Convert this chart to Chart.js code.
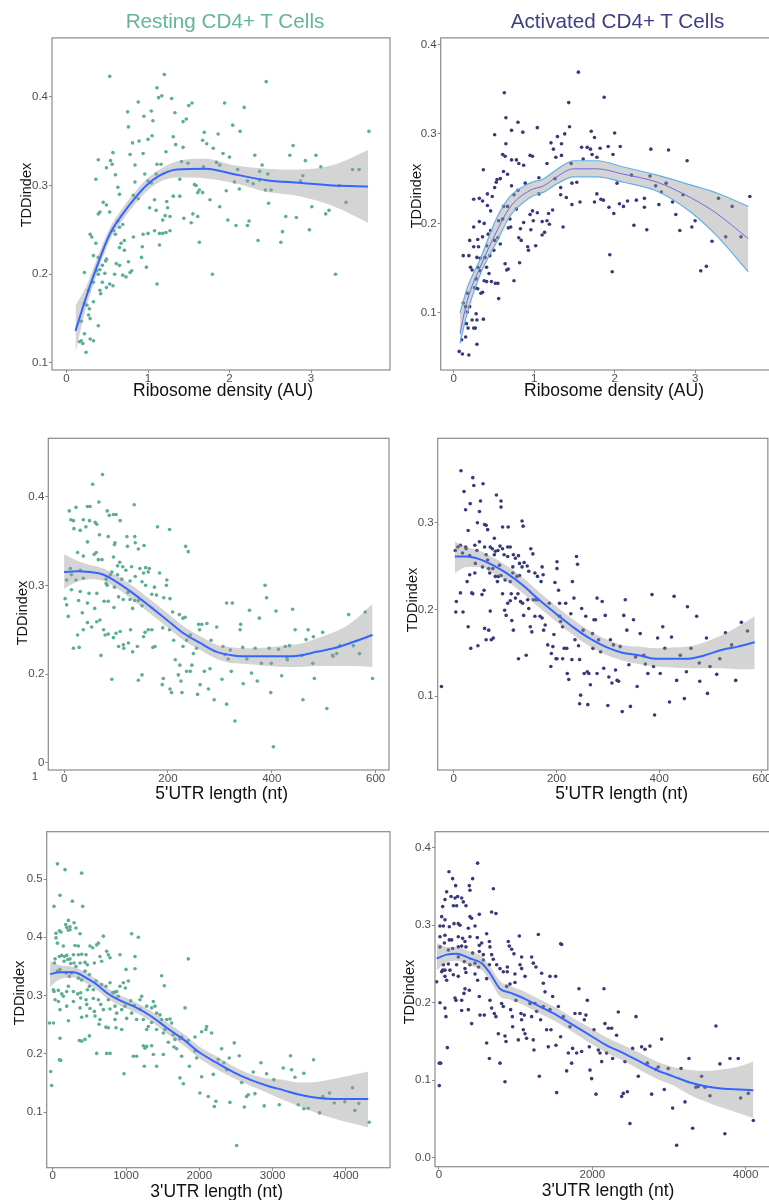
<!DOCTYPE html>
<html><head><meta charset="utf-8">
<script src="https://cdn.jsdelivr.net/npm/chart.js@4.4.1/dist/chart.umd.min.js"></script>
<style>
html,body{margin:0;padding:0;background:#fff;overflow:hidden;width:769px;height:1200px;}
#wrap{position:relative;width:769px;height:1200px;overflow:hidden;}
canvas{position:absolute;}
.t{position:absolute;font-family:'Liberation Sans',Arial,sans-serif;white-space:nowrap;line-height:1;transform:translate(-50%,-50%);color:#111;z-index:5;}
.yt{transform:translate(-50%,-50%) rotate(-90deg);}
</style></head>
<body><div id="wrap"></div>
<script>
// ---------- DATA ----------
const restRibo=[[0.53,.423],[1.20,.425],[1.11,.41],[1.17,.401],[1.13,.399],[1.29,.398],[0.88,.394],[1.54,.393],[1.50,.39],[1.94,.393],[2.18,.388],[2.45,.417],[1.04,.384],[0.75,.383],[0.95,.378],[1.33,.382],[1.06,.373],[1.47,.375],[1.43,.372],[0.76,.366],[2.04,.368],[3.71,.361],[2.13,.361],[1.69,.36],[1.86,.358],[1.05,.356],[1.31,.355],[1.67,.351],[0.81,.348],[0.89,.35],[1.0,.352],[1.72,.347],[2.78,.345],[1.34,.346],[1.43,.343],[1.80,.342],[1.22,.338],[0.94,.336],[0.78,.335],[0.57,.337],[1.92,.336],[2.31,.334],[2.74,.334],[3.06,.334],[2.0,.332],[0.39,.329],[0.54,.328],[0.56,.324],[1.41,.327],[1.49,.325],[1.84,.326],[1.88,.323],[2.93,.328],[2.40,.323],[1.11,.324],[1.16,.324],[0.84,.323],[0.49,.320],[3.12,.321],[3.51,.318],[3.59,.318],[1.68,.321],[2.10,.318],[2.37,.316],[2.47,.313],[0.96,.313],[1.10,.313],[0.60,.312],[0.36,.307],[1.39,.307],[2.90,.311],[2.87,.305],[1.0,.305],[1.04,.303],[0.84,.304],[2.06,.304],[2.22,.305],[2.29,.302],[2.37,.306],[1.57,.301],[1.59,.300],[1.63,.295],[1.67,.292],[1.61,.292],[2.12,.296],[1.96,.294],[2.44,.295],[2.51,.295],[3.35,.300],[0.63,.298],[0.65,.290],[0.82,.289],[0.88,.285],[1.31,.288],[1.39,.288],[1.76,.284],[1.08,.284],[1.23,.282],[3.43,.281],[0.45,.281],[0.49,.278],[3.01,.276],[2.48,.280],[3.18,.268],[3.22,.272],[1.88,.276],[1.02,.275],[1.24,.275],[1.10,.272],[0.41,.270],[0.39,.268],[0.53,.270],[1.21,.266],[1.27,.265],[1.18,.261],[2.69,.265],[2.82,.264],[1.44,.263],[1.55,.268],[1.61,.265],[1.98,.261],[2.24,.260],[2.22,.255],[2.08,.255],[1.53,.258],[0.63,.260],[0.65,.253],[0.58,.249],[0.69,.256],[2.98,.250],[2.65,.248],[1.08,.249],[1.14,.246],[1.18,.246],[1.22,.247],[1.27,.249],[0.94,.245],[1.0,.246],[0.82,.242],[0.71,.238],[0.67,.235],[0.60,.245],[0.29,.245],[0.31,.242],[0.36,.235],[1.63,.236],[2.35,.238],[2.63,.236],[1.14,.233],[0.93,.231],[0.65,.230],[0.71,.227],[0.33,.221],[0.39,.219],[0.92,.219],[0.49,.217],[0.48,.215],[0.44,.210],[0.76,.214],[0.61,.212],[0.65,.210],[0.98,.208],[0.37,.204],[0.41,.205],[0.22,.202],[0.47,.201],[0.39,.200],[0.59,.200],[0.69,.199],[0.73,.197],[0.78,.202],[0.80,.204],[1.79,.2],[3.30,.2],[0.44,.191],[0.53,.189],[0.57,.187],[0.49,.185],[1.11,.189],[0.33,.191],[0.27,.182],[0.42,.178],[0.41,.182],[0.33,.169],[0.22,.167],[0.25,.165],[0.28,.161],[0.39,.142],[0.27,.154],[0.29,.150],[0.18,.147],[0.16,.124],[0.18,.125],[0.20,.122],[0.24,.112],[0.29,.127],[0.33,.125],[0.22,.133]];
const fit1X=[0.11,0.24,0.37,0.53,0.69,0.86,0.98,1.14,1.35,1.71,2.04,2.45,2.86,3.27,3.70];
const fit1Y=[.136,.174,.208,.245,.268,.288,.300,.311,.318,.319,.313,.306,.303,.300,.299];
const fit1Hi=[.165,.186,.217,.252,.275,.295,.307,.318,.327,.330,.323,.319,.318,.323,.340];
const fit1Lo=[.112,.162,.199,.238,.261,.281,.293,.304,.309,.308,.303,.293,.288,.277,.258];

const actRibo=[[1.55,.369],[0.63,.346],[1.43,.335],[1.87,.341],[0.65,.318],[0.80,.313],[0.51,.299],[1.44,.308],[1.04,.307],[0.72,.304],[0.86,.302],[1.38,.300],[1.71,.303],[2.0,.301],[1.75,.296],[1.29,.297],[1.21,.290],[0.65,.289],[1.24,.283],[1.59,.285],[1.66,.285],[1.70,.283],[1.82,.284],[1.92,.286],[2.07,.286],[2.45,.283],[2.67,.282],[1.34,.289],[0.61,.277],[0.64,.275],[0.95,.276],[0.98,.275],[1.27,.274],[1.34,.276],[0.72,.271],[0.78,.271],[0.81,.267],[0.87,.265],[1.16,.267],[1.46,.267],[1.72,.277],[1.78,.274],[1.61,.272],[1.98,.277],[2.90,.270],[0.37,.260],[0.62,.258],[0.67,.255],[0.54,.249],[0.58,.250],[0.53,.246],[0.89,.245],[1.06,.251],[1.53,.246],[1.47,.245],[1.26,.250],[2.03,.245],[2.21,.254],[2.44,.253],[2.51,.242],[2.64,.245],[0.51,.240],[0.72,.242],[0.80,.237],[0.42,.233],[0.48,.230],[0.25,.227],[0.32,.228],[0.36,.225],[0.75,.232],[1.06,.233],[1.33,.232],[1.40,.229],[1.78,.233],[1.83,.227],[1.33,.240],[2.16,.225],[2.27,.226],[2.37,.228],[2.58,.235],[2.72,.224],[2.85,.232],[3.29,.228],[3.46,.219],[3.68,.230],[0.46,.214],[0.42,.220],[0.62,.219],[0.67,.219],[0.78,.216],[0.98,.214],[1.04,.212],[1.23,.215],[1.47,.221],[1.57,.224],[1.75,.224],[1.93,.218],[2.06,.222],[2.11,.219],[2.37,.218],[2.55,.221],[1.86,.226],[0.32,.202],[0.38,.200],[0.56,.203],[0.61,.205],[0.70,.205],[0.95,.210],[0.99,.203],[1.10,.202],[1.16,.203],[1.18,.211],[1.99,.211],[2.76,.210],[0.25,.196],[0.46,.192],[0.43,.188],[0.68,.195],[0.71,.196],[0.83,.194],[0.87,.201],[0.96,.193],[1.10,.187],[1.13,.190],[1.19,.199],[1.36,.196],[2.24,.198],[2.40,.193],[2.81,.192],[2.96,.196],[3.0,.203],[3.38,.185],[3.57,.185],[3.21,.180],[0.20,.181],[0.30,.182],[0.36,.185],[0.51,.181],[0.55,.184],[0.58,.177],[0.81,.184],[0.84,.181],[0.92,.174],[1.02,.175],[0.93,.170],[0.25,.174],[0.31,.174],[0.41,.175],[0.50,.170],[0.12,.164],[0.19,.164],[0.29,.162],[0.33,.161],[0.39,.162],[0.45,.164],[0.82,.156],[0.21,.151],[0.23,.148],[0.30,.151],[0.33,.147],[0.41,.151],[0.44,.144],[0.64,.155],[0.66,.148],[0.68,.149],[0.75,.136],[1.94,.165],[1.97,.146],[3.07,.147],[3.14,.152],[0.38,.136],[0.41,.135],[0.47,.135],[0.52,.133],[0.55,.133],[0.28,.138],[0.34,.122],[0.36,.123],[0.26,.128],[0.27,.128],[0.30,.127],[0.56,.116],[0.17,.122],[0.12,.111],[0.15,.107],[0.20,.107],[0.17,.101],[0.28,.099],[0.29,.092],[0.37,.093],[0.23,.092],[0.16,.088],[0.25,.083],[0.27,.083],[0.18,.083],[0.15,.073],[0.10,.070],[0.29,.065],[0.07,.057],[0.11,.054],[0.19,.053]];
const fit2X=[0.08,0.17,0.33,0.54,0.70,0.95,1.12,1.28,1.49,1.78,2.11,2.53,2.94,3.27,3.66];
const fit2Y=[.077,.114,.151,.192,.218,.237,.242,.252,.261,.261,.255,.246,.229,.211,.183];
const fit2Hi=[.100,.128,.160,.207,.230,.245,.250,.260,.270,.270,.263,.254,.243,.234,.219];
const fit2Lo=[.066,.100,.143,.180,.208,.229,.235,.244,.252,.252,.246,.236,.213,.186,.146];

const rest5utr=[[74,.425],[55,.414],[67,.394],[10,.384],[23,.388],[45,.389],[50,.389],[135,.391],[13,.374],[18,.373],[37,.374],[49,.373],[60,.371],[63,.369],[83,.384],[87,.379],[95,.380],[100,.380],[108,.373],[19,.364],[42,.366],[31,.362],[180,.366],[203,.363],[68,.357],[85,.355],[121,.355],[136,.355],[45,.349],[98,.348],[97,.346],[137,.348],[154,.345],[122,.344],[143,.341],[234,.344],[239,.338],[26,.337],[58,.335],[62,.337],[37,.333],[66,.329],[73,.329],[95,.332],[107,.326],[103,.322],[113,.321],[119,.317],[130,.321],[12,.319],[31,.317],[92,.315],[146,.319],[157,.320],[162,.315],[164,.319],[153,.314],[184,.314],[14,.312],[5,.306],[37,.308],[23,.306],[81,.307],[89,.312],[103,.312],[111,.307],[137,.310],[127,.305],[81,.302],[83,.300],[97,.298],[150,.304],[157,.300],[174,.298],[198,.306],[197,.300],[2,.285],[14,.295],[31,.293],[48,.291],[63,.291],[77,.282],[85,.282],[105,.287],[114,.284],[127,.284],[123,.292],[136,.283],[143,.283],[150,.277],[169,.290],[178,.289],[192,.286],[204,.285],[5,.278],[28,.283],[45,.280],[59,.274],[96,.275],[132,.274],[209,.270],[222,.267],[229,.263],[233,.264],[313,.280],[324,.280],[357,.272],[408,.271],[440,.273],[548,.267],[580,.270],[8,.265],[35,.269],[26,.244],[29,.230],[18,.229],[37,.250],[45,.258],[53,.253],[63,.259],[69,.261],[71,.221],[76,.250],[79,.244],[85,.245],[95,.241],[100,.246],[108,.248],[105,.231],[114,.233],[115,.229],[124,.235],[128,.250],[132,.225],[141,.231],[153,.242],[156,.247],[162,.250],[169,.250],[171,.230],[175,.231],[190,.252],[203,.250],[211,.238],[229,.231],[236,.238],[243,.244],[249,.223],[255,.229],[259,.256],[265,.256],[275,.257],[283,.238],[294,.253],[261,.250],[306,.231],[310,.222],[316,.217],[320,.227],[339,.250],[340,.256],[344,.230],[352,.217],[368,.229],[376,.263],[380,.212],[387,.300],[390,.286],[395,.229],[399,.212],[413,.228],[426,.231],[434,.232],[429,.218],[445,.250],[458,.221],[470,.250],[466,.239],[479,.212],[498,.247],[480,.242],[517,.221],[525,.223],[531,.232],[557,.232],[569,.223],[594,.195],[92,.194],[143,.193],[150,.199],[191,.195],[189,.188],[204,.183],[207,.179],[214,.216],[223,.210],[220,.199],[225,.192],[227,.179],[236,.203],[243,.203],[246,.210],[257,.177],[262,.188],[270,.203],[278,.183],[281,.206],[289,.171],[304,.194],[313,.166],[322,.203],[329,.147],[345,.189],[361,.201],[372,.192],[398,.179],[403,.118],[419,.198],[430,.216],[460,.171],[482,.195],[506,.161],[518,.220]];
const fit3X=[0,24,50,76,101,133,166,198,230,262,294,326,358,390,422,454,486,519,551,594];
const fit3Y=[.315,.316,.315,.312,.304,.291,.276,.261,.246,.235,.225,.221,.220,.220,.220,.221,.225,.229,.235,.244];
const fit3Hi=[.335,.328,.323,.319,.311,.299,.284,.269,.254,.243,.233,.230,.229,.230,.232,.234,.240,.247,.257,.279];
const fit3Lo=[.296,.304,.307,.305,.297,.283,.268,.253,.238,.227,.217,.212,.211,.209,.208,.208,.209,.209,.209,.208];

const act5utr=[[-24,.111],[14,.360],[37,.352],[39,.343],[57,.345],[20,.336],[32,.322],[23,.315],[52,.325],[50,.313],[83,.332],[92,.325],[92,.318],[95,.295],[106,.295],[46,.300],[60,.298],[63,.297],[66,.292],[28,.291],[133,.302],[135,.296],[3,.268],[8,.272],[13,.274],[17,.265],[23,.272],[24,.270],[31,.262],[41,.274],[45,.268],[50,.278],[60,.272],[63,.263],[71,.272],[75,.270],[79,.282],[79,.263],[81,.267],[86,.268],[90,.273],[95,.270],[98,.263],[105,.272],[105,.261],[110,.272],[116,.263],[120,.259],[126,.262],[128,.253],[133,.249],[137,.254],[143,.250],[150,.270],[154,.264],[146,.244],[158,.242],[163,.238],[170,.232],[174,.240],[172,.249],[31,.240],[41,.242],[42,.253],[56,.249],[66,.257],[68,.247],[70,.242],[76,.247],[81,.238],[85,.232],[87,.238],[89,.251],[92,.239],[100,.234],[110,.232],[115,.249],[115,.242],[123,.238],[128,.239],[26,.232],[35,.219],[37,.218],[55,.217],[59,.222],[13,.219],[5,.209],[4,.197],[18,.197],[28,.180],[33,.155],[47,.158],[60,.178],[63,.165],[68,.176],[71,.198],[73,.165],[77,.167],[95,.218],[99,.199],[102,.193],[105,.207],[110,.210],[112,.218],[113,.187],[116,.176],[120,.213],[125,.218],[126,.143],[130,.209],[134,.207],[136,.193],[141,.147],[144,.211],[146,.201],[149,.180],[152,.174],[155,.211],[158,.192],[160,.211],[164,.211],[168,.192],[172,.190],[175,.176],[178,.182],[183,.159],[186,.207],[190,.149],[193,.157],[195,.171],[197,.231],[201,.255],[201,.247],[204,.222],[206,.207],[206,.192],[208,.186],[212,.180],[212,.143],[215,.155],[189,.134],[199,.143],[201,.143],[218,.207],[220,.155],[221,.126],[224,.119],[228,.195],[230,.142],[231,.232],[234,.213],[236,.165],[239,.261],[241,.252],[243,.158],[245,.142],[247,.101],[245,.091],[249,.201],[252,.176],[254,.126],[257,.192],[260,.128],[261,.090],[263,.126],[266,.113],[270,.172],[271,.155],[273,.188],[276,.188],[279,.213],[279,.126],[282,.165],[286,.151],[289,.209],[292,.132],[295,.193],[300,.089],[302,.122],[305,.165],[308,.115],[311,.159],[315,.130],[318,.118],[321,.117],[324,.157],[328,.082],[331,.193],[334,.211],[337,.176],[341,.136],[344,.088],[350,.188],[354,.145],[357,.111],[363,.172],[370,.147],[373,.137],[378,.126],[386,.217],[389,.134],[391,.078],[397,.167],[402,.126],[407,.180],[411,.155],[420,.093],[424,.168],[429,.215],[434,.118],[441,.147],[449,.097],[455,.203],[453,.128],[462,.155],[473,.192],[478,.138],[479,.117],[492,.167],[494,.103],[499,.134],[512,.125],[518,.143],[529,.173],[541,.159],[549,.118],[560,.185],[572,.175]];
const fit4X=[2,25,50,76,102,134,166,199,231,263,295,328,360,392,424,457,489,521,553,586];
const fit4Y=[.261,.261,.258,.251,.242,.228,.211,.195,.180,.167,.157,.150,.147,.143,.143,.143,.147,.153,.157,.162];
const fit4Hi=[.278,.272,.268,.260,.251,.237,.220,.204,.189,.176,.166,.159,.157,.155,.156,.157,.162,.170,.180,.192];
const fit4Lo=[.242,.249,.249,.242,.233,.219,.202,.186,.171,.158,.148,.141,.137,.134,.133,.132,.132,.132,.131,.131];

const rest3utr=[[64,.526],[168,.516],[395,.510],[100,.472],[18,.453],[409,.453],[268,.462],[214,.429],[236,.418],[291,.425],[177,.422],[45,.407],[91,.411],[114,.409],[373,.406],[691,.402],[1077,.406],[1168,.400],[45,.399],[64,.390],[191,.417],[214,.412],[236,.413],[318,.416],[145,.385],[350,.385],[305,.386],[32,.363],[91,.367],[123,.369],[159,.367],[191,.369],[236,.363],[282,.370],[350,.370],[395,.371],[455,.370],[545,.382],[600,.387],[623,.390],[736,.376],[509,.385],[645,.367],[759,.370],[918,.370],[782,.365],[1850,.363],[1123,.367],[23,.356],[64,.342],[100,.345],[155,.359],[205,.362],[245,.355],[291,.356],[318,.350],[373,.356],[441,.357],[473,.353],[568,.356],[668,.359],[182,.339],[227,.333],[259,.339],[350,.330],[395,.327],[441,.342],[500,.336],[591,.325],[782,.322],[1000,.345],[1032,.325],[1123,.346],[1486,.334],[1523,.317],[9,.310],[18,.307],[77,.309],[123,.303],[191,.307],[214,.316],[282,.307],[341,.303],[382,.305],[473,.310],[500,.316],[554,.310],[668,.319],[727,.316],[841,.306],[918,.316],[964,.322],[991,.313],[873,.307],[32,.293],[77,.290],[145,.299],[282,.290],[382,.296],[455,.293],[554,.295],[623,.293],[759,.293],[818,.305],[896,.299],[1064,.291],[1191,.293],[1214,.299],[1373,.290],[1805,.279],[100,.276],[191,.282],[373,.279],[464,.285],[509,.278],[568,.273],[655,.285],[691,.276],[782,.277],[850,.282],[873,.270],[941,.276],[986,.282],[1114,.283],[1191,.277],[1282,.282],[1350,.279],[1395,.282],[1418,.270],[1464,.267],[9,.253],[214,.257],[395,.263],[464,.265],[577,.265],[645,.259],[850,.259],[1009,.261],[1077,.270],[1145,.259],[1236,.259],[1350,.254],[1486,.259],[1555,.259],[1600,.260],[1623,.253],[632,.251],[727,.246],[759,.245],[864,.245],[941,.242],[1282,.242],[1305,.247],[1418,.242],[1509,.236],[1532,.242],[1645,.233],[1668,.225],[1736,.226],[1759,.229],[1850,.223],[1941,.229],[2032,.238],[2100,.247],[2168,.236],[2091,.242],[100,.227],[364,.223],[395,.222],[441,.225],[500,.231],[91,.190],[600,.201],[736,.201],[782,.201],[973,.166],[1100,.196],[1145,.196],[1236,.214],[1259,.210],[1282,.213],[1250,.179],[1350,.214],[1418,.179],[1373,.199],[1509,.199],[1577,.220],[1655,.212],[1691,.209],[1759,.196],[1782,.149],[1736,.159],[1864,.179],[1941,.205],[1964,.193],[2009,.133],[2032,.161],[2123,.127],[2191,.165],[2205,.110],[2227,.119],[2259,.191],[2336,.185],[2305,.209],[2409,.193],[2373,.173],[2418,.117],[2477,.219],[2509,.043],[2545,.197],[2577,.151],[2614,.109],[2645,.127],[2668,.130],[2736,.169],[2759,.132],[2841,.185],[2886,.111],[2918,.166],[3018,.156],[3091,.113],[3145,.176],[3245,.197],[3259,.173],[3305,.160],[3350,.113],[3427,.167],[3427,.106],[3486,.107],[3559,.190],[3641,.099],[3686,.127],[3777,.133],[3841,.116],[3986,.118],[4091,.142],[4123,.103],[4177,.115],[4318,.083],[-45,.253],[-27,.170],[-14,.146],[109,.189]];
const fit5X=[-36,100,282,464,600,736,896,1100,1327,1555,1782,2009,2236,2464,2691,2918,3145,3373,3600,3827,4055,4305];
const fit5Y=[.337,.340,.340,.330,.319,.305,.293,.282,.266,.245,.225,.202,.185,.169,.156,.146,.138,.130,.125,.123,.123,.123];
const fit5Hi=[.359,.352,.349,.339,.328,.314,.302,.291,.275,.255,.235,.212,.196,.179,.166,.158,.156,.151,.152,.157,.163,.170];
const fit5Lo=[.315,.328,.331,.321,.310,.296,.284,.273,.257,.235,.215,.192,.174,.159,.146,.134,.121,.110,.099,.090,.082,.074];

const act3utr=[[504,.380],[130,.369],[178,.360],[217,.351],[396,.351],[439,.360],[709,.347],[157,.337],[209,.335],[243,.337],[296,.335],[317,.330],[404,.345],[78,.333],[100,.343],[48,.324],[187,.325],[230,.325],[352,.325],[526,.314],[687,.317],[743,.315],[35,.311],[78,.307],[404,.311],[426,.309],[13,.299],[57,.299],[135,.298],[196,.302],[252,.302],[274,.300],[383,.296],[470,.299],[622,.289],[13,.285],[78,.287],[135,.281],[165,.281],[252,.285],[309,.283],[339,.279],[404,.285],[500,.284],[526,.274],[557,.277],[665,.272],[657,.279],[1048,.286],[904,.279],[917,.273],[1296,.288],[1587,.276],[13,.272],[70,.277],[122,.268],[178,.270],[252,.272],[296,.273],[352,.272],[439,.264],[526,.266],[578,.262],[687,.262],[709,.256],[948,.269],[978,.263],[1078,.259],[1209,.259],[57,.249],[78,.242],[122,.250],[143,.242],[230,.249],[252,.259],[330,.253],[339,.244],[404,.249],[470,.251],[517,.246],[578,.255],[657,.249],[752,.249],[796,.244],[839,.240],[891,.246],[1057,.249],[1078,.244],[1230,.251],[1265,.246],[78,.234],[187,.236],[252,.234],[352,.239],[470,.237],[504,.229],[622,.231],[891,.240],[991,.237],[1122,.234],[1339,.238],[1361,.225],[1448,.234],[1522,.234],[13,.200],[78,.193],[91,.182],[209,.206],[222,.203],[296,.190],[339,.218],[396,.216],[326,.212],[296,.203],[383,.191],[426,.173],[526,.208],[535,.184],[591,.184],[622,.148],[657,.128],[665,.203],[687,.193],[722,.186],[743,.182],[774,.160],[796,.122],[817,.199],[839,.195],[861,.157],[874,.150],[861,.098],[883,.221],[926,.224],[935,.191],[957,.182],[961,.169],[991,.226],[1004,.203],[1035,.152],[1070,.186],[1078,.178],[1100,.165],[1113,.184],[1122,.160],[1143,.154],[1187,.199],[1209,.182],[1230,.152],[1239,.139],[1252,.199],[1274,.189],[1309,.105],[1326,.178],[1361,.195],[1383,.214],[1404,.165],[1426,.143],[1448,.191],[1461,.165],[1483,.208],[1526,.145],[1535,.084],[1557,.195],[1587,.156],[1600,.275],[1622,.182],[1665,.112],[1687,.135],[1709,.169],[1730,.122],[1743,.141],[1774,.186],[1796,.135],[1826,.218],[1839,.186],[1861,.137],[1896,.178],[1917,.184],[1935,.203],[1961,.143],[1970,.113],[1991,.102],[2022,.165],[2048,.082],[2078,.139],[2100,.135],[2122,.124],[2152,.218],[2165,.173],[2187,.135],[2209,.167],[2252,.167],[2265,.128],[2317,.158],[2339,.188],[2383,.079],[2404,.083],[2426,.124],[2457,.085],[2491,.044],[2526,.141],[2570,.182],[2600,.105],[2643,.143],[2687,.140],[2717,.122],[2752,.144],[2774,.082],[2830,.114],[2861,.117],[2904,.153],[2939,.088],[2991,.115],[3048,.064],[3100,.016],[3157,.115],[3209,.072],[3261,.128],[3309,.038],[3352,.091],[3383,.092],[3426,.105],[3470,.091],[3535,.080],[3613,.170],[3665,.121],[3730,.031],[3796,.128],[3904,.128],[3935,.077],[4035,.083],[4100,.048],[-30,.227],[4,.122],[22,.122],[4,.093],[35,.240],[48,.242],[100,.229],[109,.142]];
const fit6X=[-30,100,230,404,557,665,796,926,1100,1317,1535,1752,1970,2187,2404,2622,2839,3057,3274,3491,3709,3926,4100];
const fit6Y=[.257,.262,.263,.257,.251,.238,.218,.213,.206,.195,.184,.171,.158,.145,.135,.124,.113,.105,.097,.092,.089,.088,.087];
const fit6Hi=[.277,.272,.272,.266,.260,.247,.228,.222,.215,.204,.193,.180,.168,.155,.145,.135,.124,.117,.113,.112,.114,.118,.124];
const fit6Lo=[.242,.252,.254,.248,.242,.229,.208,.204,.197,.186,.175,.162,.148,.135,.125,.113,.102,.093,.081,.072,.064,.057,.051];

// tick values & labels
const riboTicks=[0,1,2,3], riboLabels=['0','1','2','3'];
const utr5Ticks=[0,200,400,600], utr5Labels=['0','200','400','600'];
const utr3TicksRest=[0,1000,2000,3000,4000], utr3LabelsRest=['0','1000','2000','3000','4000'];
const utr3TicksAct=[0,2000,4000], utr3LabelsAct=['0','2000','4000'];
const y1Ticks=[0.1,0.2,0.3,0.4], y1Labels=['0.1','0.2','0.3','0.4'];
const y2Ticks=[0.1,0.2,0.3,0.4], y2Labels=['0.1','0.2','0.3','0.4'];
const y3Ticks=[0.1,0.2,0.3,0.4], y3Labels=['0','0.2','0.3','0.4'];
const y4Ticks=[0.1,0.2,0.3], y4Labels=['0.1','0.2','0.3'];
const y5Ticks=[0.1,0.2,0.3,0.4,0.5], y5Labels=['0.1','0.2','0.3','0.4','0.5'];
const y6Ticks=[0.0,0.1,0.2,0.3,0.4], y6Labels=['0.0','0.1','0.2','0.3','0.4'];

const colRest='#5aae94', colAct='#38387a';
const titleRest='#63b59c', titleAct='#3f3d84';

// ---------- DRAWING ----------
Chart.defaults.font.family="'Liberation Sans', Arial, sans-serif";
const FONT="'Liberation Sans', Arial, sans-serif";
const wrap=document.getElementById('wrap');

const framePlugin={id:'frame',afterDraw(chart){const a=chart.chartArea,c=chart.ctx;c.save();c.strokeStyle='#8a8a8a';c.lineWidth=1.2;c.strokeRect(a.left,a.top,a.right-a.left,a.bottom-a.top);c.restore();}};

function pts(arr){return arr.map(p=>({x:p[0],y:p[1]}));}
function zipXY(xs,ys){return xs.map((x,i)=>({x:x,y:ys[i]}));}

function panel(g, points, col, fx, fy, fhi, flo, xr, yr, xt, xl, yt, yl, sty){
  const cv=document.createElement('canvas');
  cv.width=g.w; cv.height=g.h;
  cv.style.left=g.left+'px'; cv.style.top=g.top+'px';
  cv.style.width=g.w+'px'; cv.style.height=g.h+'px';
  wrap.appendChild(cv);
  const tickFont={family:FONT,size:11.5};
  new Chart(cv.getContext('2d'),{
    type:'scatter',
    data:{datasets:[
      {type:'line',data:zipXY(fx,fy),borderColor:sty.line,borderWidth:sty.lw,pointRadius:0,cubicInterpolationMode:'monotone',fill:false,order:0},
      {type:'line',data:zipXY(fx,fhi),borderColor:sty.edge,borderWidth:sty.ew,pointRadius:0,cubicInterpolationMode:'monotone',fill:false,order:1},
      {type:'line',data:zipXY(fx,flo),borderColor:sty.edge,borderWidth:sty.ew,pointRadius:0,cubicInterpolationMode:'monotone',fill:'-1',backgroundColor:'rgba(153,153,153,0.42)',order:2},
      {type:'scatter',data:pts(points),backgroundColor:col,borderWidth:0,pointRadius:1.8,order:3}
    ]},
    options:{
      responsive:false,animation:false,devicePixelRatio:1,
      layout:{autoPadding:false,padding:{left:0,top:g.padT,right:g.padR,bottom:0}},
      plugins:{legend:{display:false},tooltip:{enabled:false}},
      scales:{
        x:{type:'linear',min:xr[0],max:xr[1],
          afterBuildTicks:s=>{s.ticks=xt.map(v=>({value:v}));},
          afterFit:s=>{s.height=g.xH;},
          grid:{display:true,drawOnChartArea:false,drawTicks:true,tickLength:3,color:'#8a8a8a'},
          border:{display:false},
          ticks:{color:'#4d4d4d',font:tickFont,padding:-1.5,maxRotation:0,autoSkip:false,callback:(v,i)=>xl[i]}},
        y:{type:'linear',min:yr[0],max:yr[1],
          afterBuildTicks:s=>{s.ticks=yt.map(v=>({value:v}));},
          afterFit:s=>{s.width=g.yW;},
          grid:{display:true,drawOnChartArea:false,drawTicks:true,tickLength:3,color:'#8a8a8a'},
          border:{display:false},
          ticks:{color:'#4d4d4d',font:tickFont,padding:1,autoSkip:false,callback:(v,i)=>yl[i]}}
      }
    },
    plugins:[framePlugin]
  });
}

const styStd={line:'#3366ff',lw:2,edge:'rgba(0,0,0,0)',ew:0};
const styAct1={line:'#6b6be3',lw:1,edge:'#5fb2e8',ew:1.2};

panel({left:0,top:30,w:392,h:380,yW:52,padT:7,padR:2,xH:40}, restRibo,colRest, fit1X,fit1Y,fit1Hi,fit1Lo, [-0.178,3.969],[0.0921,0.4663], riboTicks,riboLabels,y1Ticks,y1Labels, styStd);
panel({left:392,top:30,w:378,h:380,yW:48.7,padT:6.7,padR:0,xH:40}, actRibo,colAct, fit2X,fit2Y,fit2Hi,fit2Lo, [-0.16,3.93],[0.0362,0.4073], riboTicks,riboLabels,y2Ticks,y2Labels, styAct1);
panel({left:0,top:420,w:392,h:380,yW:48.3,padT:18.3,padR:3,xH:30}, rest5utr,colRest, fit3X,fit3Y,fit3Hi,fit3Lo, [-30.4,625.7],[0.0917,0.4659], utr5Ticks,utr5Labels,y3Ticks,y3Labels, styStd);
panel({left:392,top:420,w:378,h:380,yW:45.7,padT:18.3,padR:0,xH:30}, act5utr,colAct, fit4X,fit4Y,fit4Hi,fit4Lo, [-31.3,611.6],[0.0146,0.3974], utr5Ticks,utr5Labels,y4Ticks,y4Labels, styStd);
panel({left:0,top:810,w:392,h:390,yW:46.7,padT:21.7,padR:2,xH:32.3}, rest3utr,colRest, fit5X,fit5Y,fit5Hi,fit5Lo, [-82,4602],[0.005,0.5811], utr3TicksRest,utr3LabelsRest,y5Ticks,y5Labels, styStd);
panel({left:392,top:810,w:378,h:390,yW:43,padT:21.7,padR:0,xH:33.3}, act3utr,colAct, fit6X,fit6Y,fit6Hi,fit6Lo, [-52,4318],[-0.0116,0.4206], utr3TicksAct,utr3LabelsAct,y6Ticks,y6Labels, styStd);

// ---------- TEXT ----------
function txt(s,cx,cy,size,color,rot){
  const d=document.createElement('div');
  d.className='t'+(rot?' yt':'');
  d.textContent=s;
  d.style.left=cx+'px'; d.style.top=cy+'px';
  d.style.fontSize=size+'px';
  if(color) d.style.color=color;
  wrap.appendChild(d);
}
txt('Resting CD4+ T Cells',225,20.5,20.7,titleRest);
txt('Activated CD4+ T Cells',617.5,20.5,20.7,titleAct);
txt('Ribosome density (AU)',223,391,17.5);
txt('Ribosome density (AU)',614,391,17.5);
txt("5'UTR length (nt)",221.7,794,17.5);
txt("5'UTR length (nt)",621.7,794,17.5);
txt("3'UTR length (nt)",216.7,1192.4,17.5);
txt("3'UTR length (nt)",608,1191,17.5);
txt('TDDindex',25.7,195,14.5,null,true);
txt('TDDindex',415.7,195.8,14.5,null,true);
txt('TDDindex',21.7,612.5,14.5,null,true);
txt('TDDindex',412.3,600,14.5,null,true);
txt('TDDindex',19,992.5,14.5,null,true);
txt('TDDindex',409,991.7,14.5,null,true);
txt('1',35,777,11.5,'#4d4d4d');
</script>
</body></html>
